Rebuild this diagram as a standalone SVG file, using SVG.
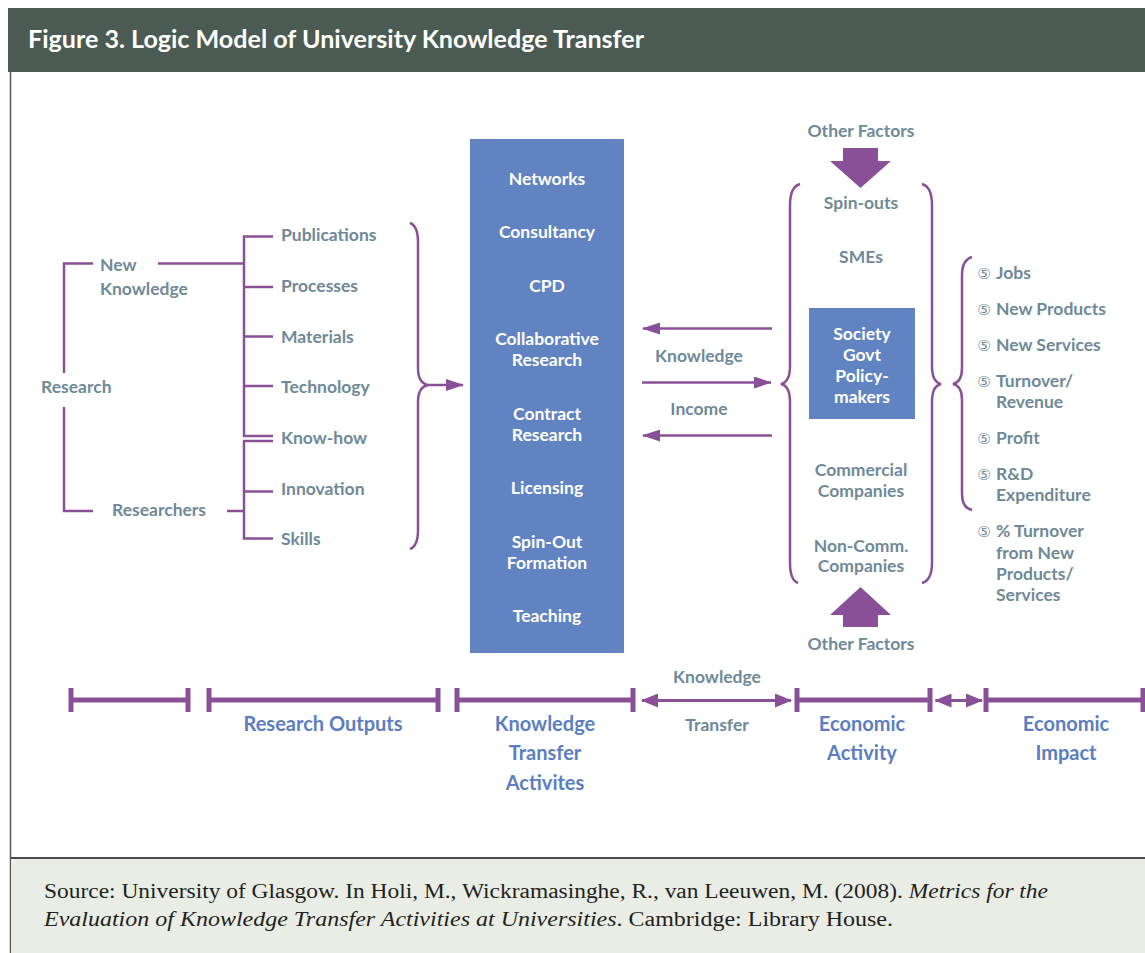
<svg xmlns="http://www.w3.org/2000/svg" width="1145" height="953" viewBox="0 0 1145 953">
<style>
.lbl{font-family:Lato,"Liberation Sans",sans-serif;font-weight:bold;font-size:17.5px;fill:#6f8998}
.wht{font-family:Lato,"Liberation Sans",sans-serif;font-weight:bold;font-size:17.5px;fill:#ffffff;text-anchor:middle}
.mid{text-anchor:middle}
.tl{font-family:Lato,"Liberation Sans",sans-serif;font-weight:bold;font-size:20px;fill:#5b7ec2;text-anchor:middle}
.bul{font-family:"DejaVu Sans",sans-serif;font-weight:normal;font-size:15px;fill:#6f8998;text-anchor:middle}
.ln{fill:none;stroke:#8a5097;stroke-width:2.5}
.thick{fill:none;stroke:#8a5097;stroke-width:5}
.tick{fill:none;stroke:#8a5097;stroke-width:5}
.foot{font-family:"Liberation Serif",serif;font-size:20px;fill:#231f20}
</style>
<defs>
<marker id="ah" viewBox="0 0 18 12" refX="17" refY="6" markerWidth="18" markerHeight="12" markerUnits="userSpaceOnUse" orient="auto-start-reverse">
<path d="M0,0 L18,6 L0,12 Z" fill="#8a5097"/>
</marker>
<marker id="ah2" viewBox="0 0 17 14" refX="16" refY="7" markerWidth="17" markerHeight="14" markerUnits="userSpaceOnUse" orient="auto-start-reverse">
<path d="M0,0 L17,7 L0,14 Z" fill="#8a5097"/>
</marker>
</defs>
<rect x="0" y="0" width="1145" height="953" fill="#ffffff"/>
<g id="frame">
<rect x="8" y="8" width="1137" height="64" fill="#4b5b53"/>
<text x="28" y="48" textLength="616" lengthAdjust="spacingAndGlyphs" style="font-family:Lato,'Liberation Sans',sans-serif;font-weight:bold;font-size:25px;fill:#ffffff">Figure 3. Logic Model of University Knowledge Transfer</text>
<line x1="10.5" y1="72" x2="10.5" y2="953" stroke="#555" stroke-width="1.5"/>
<rect x="11" y="858" width="1134" height="95" fill="#e9ede6"/>
<line x1="10" y1="858" x2="1145" y2="858" stroke="#4a4a4a" stroke-width="2"/>
<text class="foot" x="44" y="898" textLength="1004" lengthAdjust="spacingAndGlyphs">Source: University of Glasgow. In Holi, M., Wickramasinghe, R., van Leeuwen, M. (2008). <tspan font-style="italic">Metrics for the</tspan></text>
<text class="foot" x="44" y="926" textLength="849" lengthAdjust="spacingAndGlyphs"><tspan font-style="italic">Evaluation of Knowledge Transfer Activities at Universities</tspan>. Cambridge: Library House.</text>
</g>
<g id="connectors">
<path class="ln" d="M93,263.5 H64 V373 M64,407 V511 H93"/>
<path class="ln" d="M158,263.5 H244"/>
<path class="ln" d="M273,236.5 H244 V436 H273 M244,287 H273 M244,336.5 H273 M244,386 H273"/>
<path class="ln" d="M273,441 H244 V538.5 H273 M244,491.5 H273 M227,511 H244"/>
<path class="ln" d="M410,223 Q418,226 418,242 L418,368 Q418,383 428,385 Q418,387 418,402 L418,530 Q418,546 410,549"/>
<line class="ln" x1="428" y1="385" x2="463" y2="385" marker-end="url(#ah)"/>
<line class="ln" x1="772" y1="328.5" x2="643" y2="328.5" marker-end="url(#ah)"/>
<line class="ln" x1="642" y1="382.5" x2="771" y2="382.5" marker-end="url(#ah)"/>
<line class="ln" x1="772" y1="435.5" x2="643" y2="435.5" marker-end="url(#ah)"/>
<path class="ln" d="M800,184 Q790,187 790,205 L790,366 Q790,382 781,384 Q790,386 790,402 L790,563 Q790,580 798,583"/>
<path class="ln" d="M922,184 Q932,187 932,205 L932,366 Q932,382 941,384 Q932,386 932,402 L932,563 Q932,580 922,583"/>
<path class="ln" d="M972,257 Q962,260 962,275 L962,368 Q962,382 953,384 Q962,386 962,400 L962,494 Q962,508 972,510"/>
<path d="M843,148 H878 V161 H891 L860.5,188 L830,161 H843 Z" fill="#8a5097"/>
<path d="M860.5,587 L891,615 H878 V627 H843 V615 H830 Z" fill="#8a5097"/>
<path class="thick" d="M71,700 H188 M209,700 H438 M457,700 H633 M797,700 H930 M986,700 H1145"/>
<path class="tick" d="M71,688 V712 M188,688 V712 M209,688 V712 M438,688 V712 M457,688 V712 M633,688 V712 M797,688 V712 M930,688 V712 M986,688 V712 M1143,688 V712"/>
<line x1="642" y1="700.5" x2="791" y2="700.5" stroke="#8a5097" stroke-width="3" marker-start="url(#ah2)" marker-end="url(#ah2)"/>
<line x1="935.5" y1="700.5" x2="982" y2="700.5" stroke="#8a5097" stroke-width="3" marker-start="url(#ah2)" marker-end="url(#ah2)"/>
</g>
<g id="research">
<text class="lbl" x="41" y="393">Research</text>
</g>
<g id="new-knowledge">
<text class="lbl" x="100" y="271">New</text>
<text class="lbl" x="100" y="295">Knowledge</text>
</g>
<g id="researchers">
<text class="lbl" x="112" y="516">Researchers</text>
</g>
<g id="outputs">
<text class="lbl" x="281" y="241">Publications</text>
<text class="lbl" x="281" y="292">Processes</text>
<text class="lbl" x="281" y="343">Materials</text>
<text class="lbl" x="281" y="393">Technology</text>
<text class="lbl" x="281" y="444">Know-how</text>
<text class="lbl" x="281" y="495">Innovation</text>
<text class="lbl" x="281" y="545">Skills</text>
</g>
<g id="kt-activities">
<rect x="470" y="139" width="154" height="514" fill="#6283c1"/>
<text class="wht" x="547" y="185">Networks</text>
<text class="wht" x="547" y="238">Consultancy</text>
<text class="wht" x="547" y="292">CPD</text>
<text class="wht" x="547" y="345">Collaborative</text>
<text class="wht" x="547" y="366">Research</text>
<text class="wht" x="547" y="420">Contract</text>
<text class="wht" x="547" y="441">Research</text>
<text class="wht" x="547" y="494">Licensing</text>
<text class="wht" x="547" y="548">Spin-Out</text>
<text class="wht" x="547" y="569">Formation</text>
<text class="wht" x="547" y="622">Teaching</text>
</g>
<g id="flow-labels">
<text class="lbl mid" x="699" y="362">Knowledge</text>
<text class="lbl mid" x="699" y="415">Income</text>
</g>
<g id="economic-activity">
<text class="lbl mid" x="861" y="137">Other Factors</text>
<text class="lbl mid" x="861" y="209">Spin-outs</text>
<text class="lbl mid" x="861" y="263">SMEs</text>
<rect x="809" y="308" width="106" height="111" fill="#6283c1"/>
<text class="wht" x="862" y="340">Society</text>
<text class="wht" x="862" y="361">Govt</text>
<text class="wht" x="862" y="382">Policy-</text>
<text class="wht" x="862" y="403">makers</text>
<text class="lbl mid" x="861" y="476">Commercial</text>
<text class="lbl mid" x="861" y="497">Companies</text>
<text class="lbl mid" x="861" y="552">Non-Comm.</text>
<text class="lbl mid" x="861" y="572">Companies</text>
<text class="lbl mid" x="861" y="650">Other Factors</text>
</g>
<g id="economic-impact">
<text class="bul" x="984" y="279">⑤</text><text class="lbl" x="996" y="279">Jobs</text>
<text class="bul" x="984" y="315">⑤</text><text class="lbl" x="996" y="315">New Products</text>
<text class="bul" x="984" y="351">⑤</text><text class="lbl" x="996" y="351">New Services</text>
<text class="bul" x="984" y="387">⑤</text><text class="lbl" x="996" y="387">Turnover/</text>
<text class="lbl" x="996" y="408">Revenue</text>
<text class="bul" x="984" y="444">⑤</text><text class="lbl" x="996" y="444">Profit</text>
<text class="bul" x="984" y="480">⑤</text><text class="lbl" x="996" y="480">R&amp;D</text>
<text class="lbl" x="996" y="501">Expenditure</text>
<text class="bul" x="984" y="537">⑤</text><text class="lbl" x="996" y="537">% Turnover</text>
<text class="lbl" x="996" y="559">from New</text>
<text class="lbl" x="996" y="580">Products/</text>
<text class="lbl" x="996" y="601">Services</text>
</g>
<g id="timeline-labels">
<text class="tl" x="323" y="731">Research Outputs</text>
<text class="tl" x="545" y="731">Knowledge</text>
<text class="tl" x="545" y="760">Transfer</text>
<text class="tl" x="545" y="790">Activites</text>
<text class="lbl mid" x="717" y="683">Knowledge</text>
<text class="lbl mid" x="717" y="731">Transfer</text>
<text class="tl" x="862" y="731">Economic</text>
<text class="tl" x="862" y="760">Activity</text>
<text class="tl" x="1066" y="731">Economic</text>
<text class="tl" x="1066" y="760">Impact</text>
</g>
</svg>
